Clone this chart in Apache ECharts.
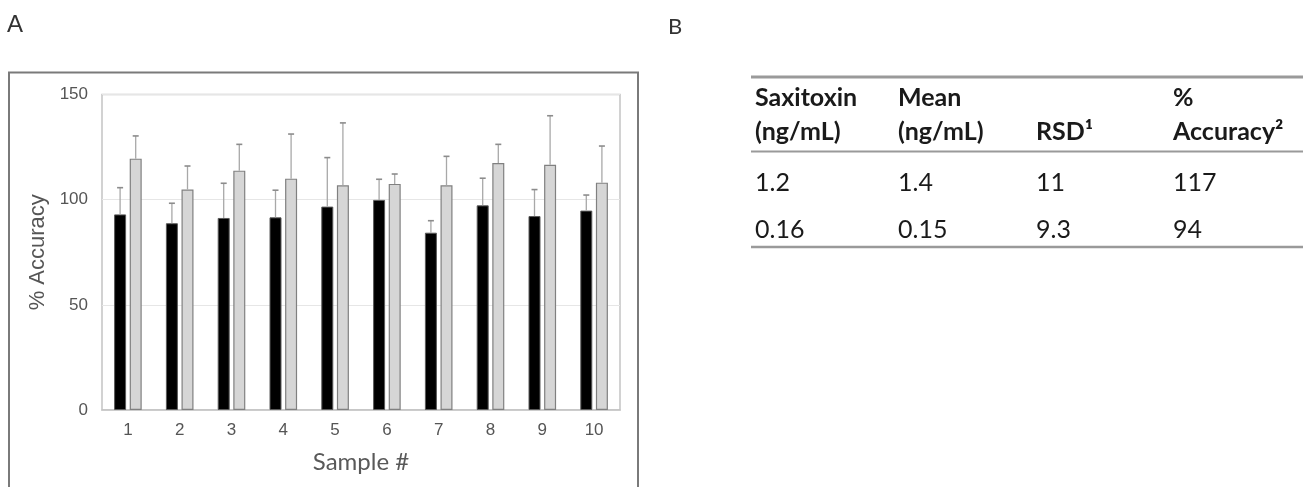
<!DOCTYPE html>
<html>
<head>
<meta charset="utf-8">
<script src="https://cdn.jsdelivr.net/npm/echarts@6/dist/echarts.min.js"></script>
<style>
html,body{margin:0;padding:0;background:#fff;}
#chart{width:1303px;height:487px;}
</style>
</head>
<body>
<div id="chart"></div>
<script>
// ---- Panel A data ----
const categories = ['1','2','3','4','5','6','7','8','9','10'];
const blackMean = [93.0, 88.8, 91.3, 91.6, 96.7, 99.9, 84.3, 97.3, 92.2, 94.8];
const blackSD   = [12.7,  9.5, 16.5, 12.9, 23.3,  9.8,  5.7, 12.9, 12.6,  7.4];
const grayMean  = [119.5, 104.8, 113.8, 110.0, 106.8, 107.5, 106.8, 117.4, 116.6, 108.1];
const graySD    = [10.8, 11.2, 12.5, 21.2, 29.7,  4.7, 13.8,  8.9, 23.3, 17.4];
const yTicks = [0, 50, 100, 150];

// ---- Panel B data ----
const tableHeaderLine1 = ['Saxitoxin', 'Mean', '', '%'];
const tableHeaderLine2 = ['(ng/mL)', '(ng/mL)', 'RSD\u00B9', 'Accuracy\u00B2'];
const tableRow1 = ['1.2', '1.4', '11', '117'];
const tableRow2 = ['0.16', '0.15', '9.3', '94'];

const chart = echarts.init(document.getElementById('chart'), null, {renderer: 'canvas'});

const ARIAL = 'Liberation Sans';
const LATO = 'Lato';

const BAR_W = 12;
const BAR_GAP = 0.3;
const offsetBlack = -(BAR_W * (1 + BAR_GAP)) / 2;
const offsetGray = (BAR_W * (1 + BAR_GAP)) / 2;

function errRender(offset) {
  return function (params, api) {
    const xi = api.value(0), v = api.value(1), e = api.value(2);
    const p0 = api.coord([xi, v]);
    const p1 = api.coord([xi, v + e]);
    const x = p0[0] + offset;
    const cap = 3;
    return {
      type: 'group',
      children: [
        {type: 'line', shape: {x1: x, y1: p0[1], x2: x, y2: p1[1]},
         style: {stroke: '#a8a8a8', lineWidth: 1.3}},
        {type: 'line', shape: {x1: x - cap, y1: p1[1], x2: x + cap, y2: p1[1]},
         style: {stroke: '#8c8c8c', lineWidth: 1.6}}
      ]
    };
  };
}

// table layout
const colX = [755, 898, 1036, 1173];
const tableGraphics = [];
function addLine(y, w) {
  tableGraphics.push({type: 'line', shape: {x1: 751, y1: y, x2: 1303, y2: y},
    style: {stroke: '#9a9a9a', lineWidth: w}, silent: true});
}
addLine(77, 3);
addLine(151.5, 2);
addLine(247, 2.5);
function addRow(arr, y, bold) {
  arr.forEach((t, i) => {
    if (!t) return;
    tableGraphics.push({type: 'text', x: colX[i], y: y,
      style: {text: t, fill: '#1a1a1a', fontSize: 25, fontFamily: LATO, fontWeight: bold ? 'bold' : 'normal',
              align: 'left', verticalAlign: 'middle'}, silent: true});
  });
}
addRow(tableHeaderLine1, 98, true);
addRow(tableHeaderLine2, 132, true);
addRow(tableRow1, 183, false);
addRow(tableRow2, 230, false);

const option = {
  animation: false,
  backgroundColor: '#fff',
  grid: {left: 102, top: 94.5, right: 683, bottom: 77, show: true,
         borderColor: '#c4c4c4', borderWidth: 1.5, outerBoundsMode: 'none'},
  xAxis: {
    type: 'category', data: categories,
    name: 'Sample #', nameLocation: 'middle', nameGap: 40,
    nameTextStyle: {fontFamily: LATO, fontSize: 24, color: '#595959'},
    axisLine: {lineStyle: {color: '#c4c4c4', width: 1.5}},
    axisTick: {show: false},
    axisLabel: {color: '#555', fontSize: 17, fontFamily: ARIAL, margin: 12}
  },
  yAxis: {
    type: 'value', min: 0, max: 150, interval: 50,
    name: '% Accuracy', nameLocation: 'middle', nameGap: 53,
    nameTextStyle: {fontFamily: ARIAL, fontSize: 22, color: '#555'},
    axisLine: {show: false},
    axisTick: {show: false},
    axisLabel: {color: '#555', fontSize: 17, fontFamily: ARIAL, margin: 14,
      formatter: v => (yTicks.indexOf(v) >= 0 ? String(v) : '')},
    splitLine: {lineStyle: {color: '#e6e6e6', width: 1.2}}
  },
  series: [
    {type: 'bar', name: 'black', data: blackMean, barWidth: BAR_W, barGap: (BAR_GAP * 100) + '%',
     itemStyle: {color: '#000', borderColor: '#5a5a5a', borderWidth: 1}, z: 2},
    {type: 'bar', name: 'gray', data: grayMean, barWidth: BAR_W,
     itemStyle: {color: '#d6d6d6', borderColor: '#808080', borderWidth: 1.2}, z: 2},
    {type: 'custom', name: 'errBlack', renderItem: errRender(offsetBlack), z: 3,
     data: blackMean.map((v, i) => [i, v, blackSD[i]]), encode: {x: 0, y: [1, 2]}},
    {type: 'custom', name: 'errGray', renderItem: errRender(offsetGray), z: 3,
     data: grayMean.map((v, i) => [i, v, graySD[i]]), encode: {x: 0, y: [1, 2]}}
  ],
  graphic: [
    {type: 'text', x: 7, y: 25, style: {text: 'A', fill: '#333', fontSize: 24, fontFamily: ARIAL,
      verticalAlign: 'middle'}, silent: true},
    {type: 'text', x: 668, y: 27, style: {text: 'B', fill: '#333', fontSize: 22, fontFamily: LATO,
      verticalAlign: 'middle'}, silent: true},
    {type: 'rect', shape: {x: 9, y: 72.5, width: 629, height: 440},
     style: {fill: 'none', stroke: '#7a7a7a', lineWidth: 2}, silent: true, z: -1}
  ].concat(tableGraphics)
};
chart.setOption(option);
</script>
</body>
</html>
